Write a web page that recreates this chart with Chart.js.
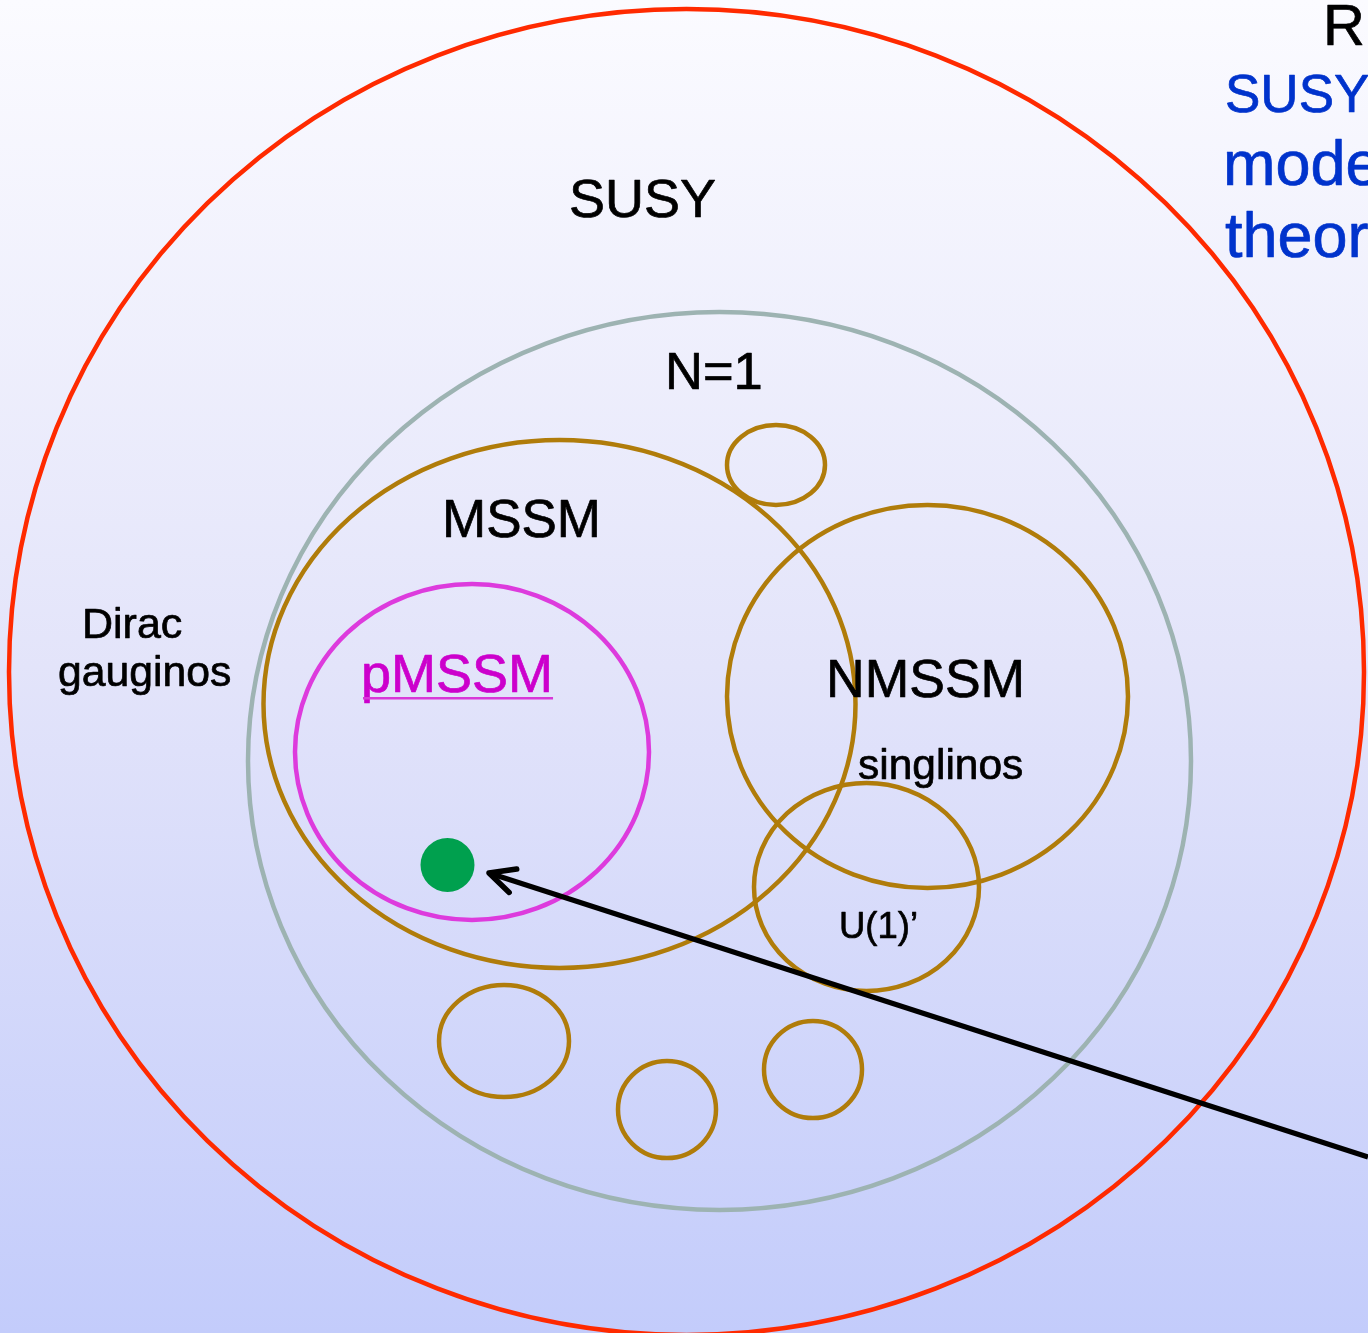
<!DOCTYPE html>
<html><head><meta charset="utf-8">
<script src="https://cdn.jsdelivr.net/npm/chart.js@4/dist/chart.umd.min.js"></script>
<style>html,body{margin:0;padding:0;overflow:hidden;background:#fff}canvas{display:block}</style>
</head><body>
<canvas id="c" width="1368" height="1333"></canvas>
<script>
// ---- Data: sets drawn as ellipses (centre and radii in diagram units) ----
const setNames = ['SUSY', 'N=1', 'MSSM', 'pMSSM', 'NMSSM', 'U(1)\u2019', 'other-a', 'other-b', 'other-c', 'other-d'];
const setCx = [686.5, 719.5, 559.5, 472, 927.5, 866.5, 776, 504, 667, 813];
const setCy = [672, 761, 704, 752, 696.5, 887, 465, 1041, 1109.5, 1069.5];
const setRx = [677.5, 471.5, 296, 177, 200.5, 112.5, 49, 65, 49, 49];
const setRy = [663, 449, 264, 168, 191.5, 104, 40, 56, 48.5, 48.5];

// ---- Data: the point and the arrow ----
const pointX = [447.5];
const pointY = [865];
const arrowX = [1368, 489];
const arrowY = [1157, 873];

// ---- Data: text labels ----
const labelText = ['SUSY', 'N=1', 'MSSM', 'pMSSM', 'NMSSM', 'singlinos', 'U(1)\u2019', 'Dirac', 'gauginos', 'R', 'SUSY', 'models', 'theories'];
const labelX = [569, 665, 442, 361, 826, 858, 839, 82, 58, 1323, 1225, 1223, 1225];
const labelY = [217, 389, 537, 692, 697, 779, 938, 638, 686, 45, 112, 185, 257];

// ---- Styles (kept apart from data) ----
const setColors = ['#ff2a00', '#9db3b2', '#b07c0a', '#dd3bdd', '#b07c0a', '#b07c0a', '#b07c0a', '#b07c0a', '#b07c0a', '#b07c0a'];
const labelSizes = [54, 52.5, 53, 54, 53.5, 42.5, 36.5, 43, 42.7, 58, 53, 63, 63];
const labelColors = ['#000', '#000', '#000', '#cc00cc', '#000', '#000', '#000', '#000', '#000', '#000', '#0033cc', '#0033cc', '#0033cc'];
const FONT = '"Liberation Sans", Arial, Helvetica, sans-serif';

const bgPlugin = {
  id: 'bg',
  beforeDraw(chart) {
    const {ctx, width, height} = chart;
    const g = ctx.createLinearGradient(0, 0, 0, height);
    g.addColorStop(0, '#fbfbff');
    g.addColorStop(0.5, '#e3e4fa');
    g.addColorStop(1, '#c3ccfb');
    ctx.save();
    ctx.fillStyle = g;
    ctx.fillRect(0, 0, width, height);
    ctx.restore();
  }
};

const setsPlugin = {
  id: 'sets',
  beforeDatasetsDraw(chart) {
    const {ctx, scales: {x, y}} = chart;
    ctx.save();
    setCx.forEach((cx, i) => {
      const px = x.getPixelForValue(cx);
      const py = y.getPixelForValue(setCy[i]);
      const rx = Math.abs(x.getPixelForValue(cx + setRx[i]) - px);
      const ry = Math.abs(y.getPixelForValue(setCy[i] + setRy[i]) - py);
      ctx.beginPath();
      ctx.ellipse(px, py, rx, ry, 0, 0, Math.PI * 2);
      ctx.lineWidth = 4.5;
      ctx.strokeStyle = setColors[i];
      ctx.stroke();
    });
    // labels
    ctx.textBaseline = 'alphabetic';
    ctx.textAlign = 'left';
    ctx.lineJoin = 'round';
    labelText.forEach((t, i) => {
      const px = x.getPixelForValue(labelX[i]);
      const py = y.getPixelForValue(labelY[i]);
      ctx.font = labelSizes[i] + 'px ' + FONT;
      ctx.fillStyle = labelColors[i];
      ctx.strokeStyle = labelColors[i];
      ctx.lineWidth = 0.7;
      ctx.fillText(t, px, py);
      ctx.strokeText(t, px, py);
      if (t === 'pMSSM') {
        const w = ctx.measureText(t).width;
        ctx.fillStyle = '#d838d8';
        ctx.fillRect(px + 2, py + 5, w - 2, 2.5);
      }
    });
    ctx.restore();
  },
  afterDatasetsDraw(chart) {
    const {ctx, scales: {x, y}} = chart;
    const x0 = x.getPixelForValue(arrowX[0]), y0 = y.getPixelForValue(arrowY[0]);
    const x1 = x.getPixelForValue(arrowX[1]), y1 = y.getPixelForValue(arrowY[1]);
    const ang = Math.atan2(y0 - y1, x0 - x1);
    const L = 28, a = 26 * Math.PI / 180;
    ctx.save();
    ctx.strokeStyle = '#000';
    ctx.lineWidth = 5.5;
    ctx.lineCap = 'round';
    ctx.lineJoin = 'round';
    ctx.beginPath();
    ctx.moveTo(x1 + L * Math.cos(ang - a), y1 + L * Math.sin(ang - a));
    ctx.lineTo(x1, y1);
    ctx.lineTo(x1 + L * Math.cos(ang + a), y1 + L * Math.sin(ang + a));
    ctx.stroke();
    ctx.restore();
  }
};

new Chart(document.getElementById('c'), {
  type: 'scatter',
  data: {
    datasets: [
      {
        label: 'model point',
        data: pointX.map((v, i) => ({x: v, y: pointY[i]})),
        pointRadius: 27,
        pointHoverRadius: 27,
        backgroundColor: '#00a04e',
        borderWidth: 0,
        order: 2
      },
      {
        label: 'arrow',
        data: arrowX.map((v, i) => ({x: v, y: arrowY[i]})),
        showLine: true,
        borderColor: '#000',
        borderWidth: 5,
        pointRadius: 0,
        order: 1
      }
    ]
  },
  options: {
    responsive: false,
    animation: false,
    events: [],
    layout: {padding: 0, autoPadding: false},
    plugins: {legend: {display: false}, tooltip: {enabled: false}},
    scales: {
      x: {type: 'linear', min: 0, max: 1368, display: false},
      y: {type: 'linear', min: 0, max: 1333, reverse: true, display: false}
    }
  },
  plugins: [bgPlugin, setsPlugin]
});
</script>
</body></html>
